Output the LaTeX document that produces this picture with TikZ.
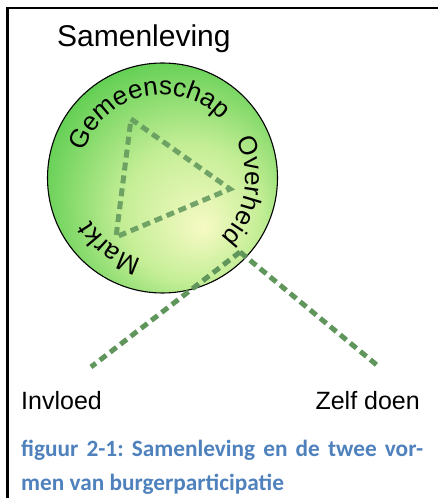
\documentclass[tikz,border=0pt]{standalone}
\usepackage{fontspec}
\setmainfont{Liberation Sans}
\newfontfamily\capfont{Carlito}
\usetikzlibrary{decorations.text}
\definecolor{innerc}{RGB}{246,250,196}
\definecolor{midc}{RGB}{196,238,150}
\definecolor{outerc}{RGB}{96,206,82}
\definecolor{dashc}{RGB}{96,150,92}
\definecolor{capc}{RGB}{79,129,189}
\pgfdeclareradialshading{society}{\pgfpoint{9bp}{-11bp}}{color(0bp)=(innerc); color(15bp)=(midc); color(31bp)=(outerc); color(50bp)=(outerc)}
\newcommand\arcfont{\fontsize{26}{26}\selectfont}
\frenchspacing
\begin{document}
\begin{tikzpicture}[x=1pt,y=1pt,
  frame/.style={line width=2.5pt},
  dashline/.style={draw=dashc, line width=5pt, dash pattern=on 8pt off 5pt},
  txt/.style={inner sep=0pt, font=\fontsize{25}{25}\selectfont},
  captxt/.style={inner sep=0pt, anchor=base west, text=capc, font=\capfont\bfseries\fontsize{23.3}{23.3}\selectfont},
  arctext/.style={decorate, decoration={text along path, text align=center, text={|\arcfont|#1}}}
]
\useasboundingbox (0,0) rectangle (438,498);
% frame
\coordinate (tl) at (7.5,490);
\coordinate (tr) at (438,490);
\coordinate (bl) at (7.5,0);
\draw[frame] (tr) -- (tl) -- (bl);
% circle
\coordinate (c) at (162.5,320);
\shade[shading=society] (c) circle[radius=115];
\draw[line width=1.1pt] (c) circle[radius=115];
% curved labels
\path[arctext=Gemeenschap] ([shift={(176:83)}]c) arc[start angle=176, end angle=30, radius=83];
\path[arctext=Overheid] ([shift={(45:83)}]c) arc[start angle=45, end angle=-63, radius=83];
\path[arctext=Markt] ([shift={(273:83)}]c) arc[start angle=273, end angle=193, radius=83];
% triangle
\coordinate (g) at (131,379);
\coordinate (o) at (230,309);
\coordinate (m) at (116,261);
\draw[dashline, draw opacity=0.85] (g) -- (o) -- (m) -- cycle;
% two forms
\coordinate (apex) at (240,246);
\coordinate (inv) at (91,131);
\coordinate (zd) at (378,132);
\draw[dashline] (apex) -- (inv);
\draw[dashline] (apex) -- (zd);
% texts
\node[txt, font=\fontsize{30}{30}\selectfont, anchor=base west] (samen) at (57,451.3) {Samenleving};
\node[txt, anchor=base west] (invl) at (21,88) {Invloed};
\node[txt, anchor=base east] (zelf) at (420,88) {Zelf doen};
\node[captxt] (cap1) at (21,41) {\makebox[402pt][s]{figuur 2-1: Samenleving en de twee vor-}};
\node[captxt] (cap2) at (21,8) {men van burgerparticipatie};
\end{tikzpicture}
\end{document}
